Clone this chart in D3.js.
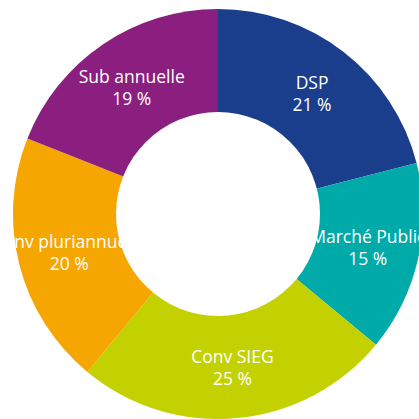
<!DOCTYPE html>
<html><head><meta charset="utf-8">
<script src="https://cdn.jsdelivr.net/npm/d3@7"></script>
<style>html,body{margin:0;padding:0;background:#fff;overflow:hidden}</style>
</head><body>
<svg id="c" width="419" height="419"></svg>
<script>
const categories = ["DSP", "Marché Public", "Conv SIEG", "Conv pluriannuelle", "Sub annuelle"];
const values = [21, 15, 25, 20, 19];
const colors = ["#1a3d8c", "#00aaa8", "#c4d100", "#f6a600", "#8a1f80"];

const cx = 218, cy = 214, outerR = 205, innerR = 102;
const svg = d3.select("#c");
const g = svg.append("g").attr("transform", `translate(${cx},${cy})`);
const data = categories.map((c, i) => ({name: c, value: values[i], color: colors[i]}));
const pie = d3.pie().value(d => d.value).sort(null);
const arcs = pie(data);
const arc = d3.arc().innerRadius(0).outerRadius(outerR);
const labelArc = d3.arc().innerRadius(innerR).outerRadius(outerR);

g.selectAll("path").data(arcs).join("path")
  .attr("d", arc).attr("fill", d => d.data.color);

const lbl = g.selectAll("text").data(arcs).join("text")
  .attr("transform", d => `translate(${labelArc.centroid(d)})`)
  .attr("text-anchor", "middle")
  .attr("fill", "#fff")
  .style("font-family", "'Open Sans', sans-serif")
  .style("font-size", "17.5px");
lbl.append("tspan").attr("x", 0).attr("y", -4).text(d => d.data.name);
lbl.append("tspan").attr("x", 0).attr("y", 18).text(d => d.data.value + " %");

g.append("circle").attr("r", innerR).attr("fill", "#fff");
</script>
</body></html>
